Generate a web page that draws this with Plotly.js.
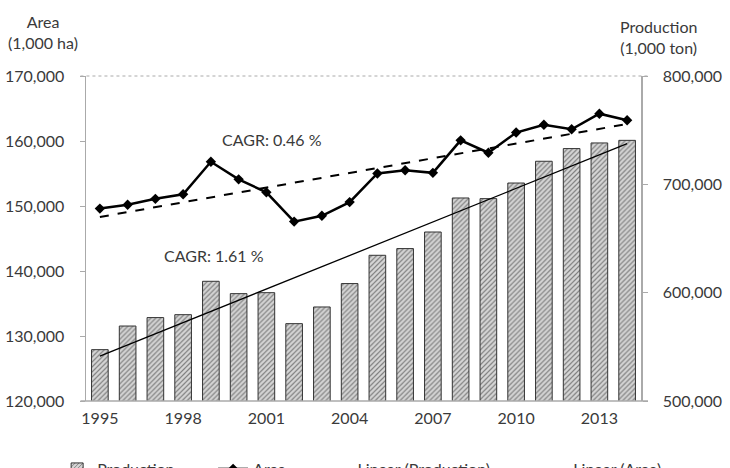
<!DOCTYPE html>
<html><head><meta charset="utf-8">
<script src="https://cdn.plot.ly/plotly-3.0.1.min.js"></script>
<style>html,body{margin:0;padding:0;background:#fff}#chart{width:730px;height:468px}</style>
</head><body><div id="chart"></div>
<script>
const years = [1995,1996,1997,1998,1999,2000,2001,2002,2003,2004,2005,2006,2007,2008,2009,2010,2011,2012,2013,2014];
const production = [547400,569200,577000,579700,610500,599100,600000,571400,586800,608400,634500,640700,656000,687400,686800,701200,721300,733000,738200,740600];
const area = [149600,150200,151100,151800,156800,154100,152100,147600,148500,150600,155000,155500,155100,160100,158200,161300,162500,161800,164200,163200];
const xTicks = [1995,1998,2001,2004,2007,2010,2013];
const leftTicks = [120000,130000,140000,150000,160000,170000];
const rightTicks = [500000,600000,700000,800000];
const cagrLabels = ["CAGR: 0.46 %","CAGR: 1.61 %"];

function linfit(xs, ys){
  const n=xs.length; let sx=0,sy=0,sxx=0,sxy=0;
  for(let i=0;i<n;i++){sx+=xs[i];sy+=ys[i];sxx+=xs[i]*xs[i];sxy+=xs[i]*ys[i];}
  const b=(n*sxy-sx*sy)/(n*sxx-sx*sx); const a=(sy-b*sx)/n;
  return xs.map(x=>a+b*x);
}
const prodTrend = linfit(years, production);
const areaTrend = linfit(years, area);

const FONT = "Lato, 'Open Sans', sans-serif";
const TXT = "#3a3a3a";
const FS = 16;

const traces = [
  {type:'bar', name:'Production', legend:'legend', x:years, y:production, yaxis:'y2', width:0.6,
   marker:{color:'#c8c8c8', line:{color:'#333', width:1},
     pattern:{shape:'/', fgcolor:'#808080', bgcolor:'#d6d6d6', size:3.5, solidity:0.35}}},
  {type:'scatter', mode:'lines+markers', name:'Area', legend:'legend2', x:years, y:area, yaxis:'y',
   line:{color:'#000', width:2.5}, marker:{symbol:'diamond', size:8, color:'#000'}},
  {type:'scatter', mode:'lines', name:'Linear (Production)', legend:'legend3', x:years, y:prodTrend, yaxis:'y2',
   line:{color:'#000', width:1.3}},
  {type:'scatter', mode:'lines', name:'Linear (Area)', legend:'legend4', x:years, y:areaTrend, yaxis:'y',
   line:{color:'#000', width:2, dash:'dash'}}
];

function leg(x){
  return {orientation:'h', x:x, xanchor:'left', y:-0.157, yanchor:'top', bgcolor:'rgba(0,0,0,0)',
          font:{size:FS, color:TXT, family:FONT}};
}

const layout = {
  width:730, height:468,
  margin:{l:86, r:89, t:76, b:67, autoexpand:false},
  paper_bgcolor:'#fff', plot_bgcolor:'#fff',
  font:{family:FONT, size:FS, color:TXT},
  showlegend:true,
  legend:leg(-0.052), legend2:leg(0.229), legend3:leg(0.417), legend4:leg(0.806),
  xaxis:{range:[1994.5,2014.5], tickvals:xTicks, ticktext:xTicks.map(String), showgrid:false, zeroline:false,
    showline:false, ticks:'', ticklabelstandoff:6, tickfont:{size:FS, color:TXT}},
  yaxis:{range:[120000,170000], tickvals:leftTicks, ticktext:leftTicks.map(v=>v.toLocaleString('en-US')),
    showgrid:false, zeroline:false, showline:true, linecolor:'#aaa', linewidth:1.5, ticks:'outside', ticklen:5, tickcolor:'#aaa',
    ticklabelstandoff:12, tickfont:{size:FS, color:TXT}},
  yaxis2:{range:[500000,800000], tickvals:rightTicks, ticktext:rightTicks.map(v=>v.toLocaleString('en-US')),
    overlaying:'y', side:'right', showgrid:false, zeroline:false, showline:true, linecolor:'#aaa', linewidth:1.5,
    ticks:'outside', ticklen:5, tickcolor:'#aaa', ticklabelstandoff:12, tickfont:{size:FS, color:TXT}},
  shapes:[
    {type:'line', xref:'paper', yref:'paper', x0:-0.01, x1:1.0126, y0:1, y1:1, line:{color:'#aaa', width:1, dash:'dot'}},
    {type:'line', xref:'paper', yref:'paper', x0:-0.01, x1:1.0126, y0:0, y1:0, line:{color:'#aaa', width:1.5}}
  ],
  annotations:[
    {xref:'paper', yref:'paper', x:-0.0775, y:1.134, xanchor:'center', yanchor:'middle', showarrow:false, text:'Area<br>(1,000 ha)', font:{size:FS, color:TXT}, align:'center'},
    {xref:'paper', yref:'paper', x:1.0324, y:1.119, xanchor:'center', yanchor:'middle', showarrow:false, text:'Production<br>(1,000 ton)', font:{size:FS, color:TXT}, align:'center'},
    {xref:'x', yref:'y', x:2001.2, y:160215, showarrow:false, text:cagrLabels[0], font:{size:FS, color:TXT}},
    {xref:'x', yref:'y', x:1999.11, y:142415, showarrow:false, text:cagrLabels[1], font:{size:FS, color:TXT}}
  ]
};
Plotly.newPlot('chart', traces, layout, {displayModeBar:false, staticPlot:true});
</script></body></html>
